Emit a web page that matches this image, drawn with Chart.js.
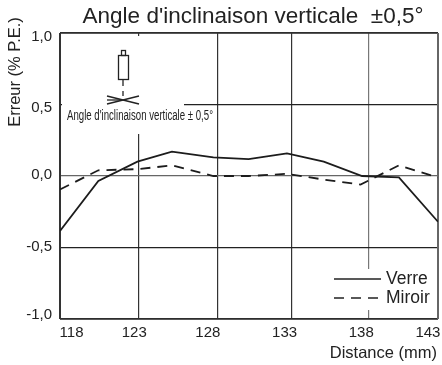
<!DOCTYPE html>
<html>
<head>
<meta charset="utf-8">
<style>
html, body { margin: 0; padding: 0; background: #fff; }
canvas { display: block; }
</style>
<script src="https://cdn.jsdelivr.net/npm/chart.js@4/dist/chart.umd.min.js"></script>
</head>
<body>
<canvas id="angleChart" width="442" height="365"></canvas>
<script>
const titleText = "Angle d'inclinaison verticale  \u00b10,5\u00b0";
const insetText = "Angle d'inclinaison verticale \u00b1 0,5\u00b0";
const yAxisTitle = 'Erreur (% P.E.)';
const xAxisTitle = 'Distance (mm)';
const xTicks = [118, 123, 128, 133, 138, 143];
const xGridLines = [123, 128.15, 133, 138];
const yTicks = [1, 0.5, 0, -0.5, -1];
const yTickLabels = ['1,0', '0,5', '0,0', '-0,5', '-1,0'];

const verreDistance = [117.9, 120.4, 122.95, 125.2, 127.9, 130.2, 132.7, 135.1, 137.6, 140, 142.55];
const verreErreur = [-0.385, -0.035, 0.1, 0.17, 0.13, 0.118, 0.158, 0.1, 0, -0.01, -0.32];
const miroirDistance = [117.9, 120.4, 122.95, 125.2, 127.9, 130.2, 132.7, 135.1, 137.5, 140, 142.55];
const miroirErreur = [-0.094, 0.04, 0.048, 0.074, 0, 0, 0.015, -0.025, -0.06, 0.074, -0.01];

const ink = '#222';
const toPoints = (xs, ys) => xs.map((x, i) => ({ x, y: ys[i] }));

const line = (ctx, x1, y1, x2, y2) => {
    ctx.beginPath();
    ctx.moveTo(x1, y1);
    ctx.lineTo(x2, y2);
    ctx.stroke();
};

// white patches the original has behind the inset drawing and the legend
const patches = {
    id: 'patches',
    beforeDatasetsDraw(chart) {
        const { ctx, scales: { x, y } } = chart;
        ctx.save();
        ctx.fillStyle = '#fff';
        ctx.fillRect(x.left + 2, y.top + 3, 122, 98);
        ctx.fillRect(330, 269, 106, 41);
        ctx.restore();
    }
};

const annotations = {
    id: 'annotations',
    afterDraw(chart) {
        const { ctx, scales: { x, y } } = chart;
        ctx.save();
        ctx.fillStyle = ink;
        ctx.textBaseline = 'middle';

        ctx.textAlign = 'center';
        ctx.font = '22.5px "Liberation Sans"';
        ctx.fillText(titleText, 253, 17);

        // tick labels sit a little off their grid lines in the original
        ctx.font = '15px "Liberation Sans"';
        const xShift = { 118: 10, 123: -4, 128: -7, 133: -7, 138: -7, 143: -17 };
        xTicks.forEach(t => ctx.fillText(String(t), x.getPixelForValue(t) + xShift[t], 333));

        ctx.textAlign = 'right';
        const yShift = [4, 3, -1, -1, -4];
        yTicks.forEach((t, i) => ctx.fillText(yTickLabels[i], 52, y.getPixelForValue(t) + yShift[i]));

        ctx.font = '16.5px "Liberation Sans"';
        ctx.fillText(xAxisTitle, 437, 353);

        ctx.save();
        ctx.translate(15, 72);
        ctx.rotate(-Math.PI / 2);
        ctx.textAlign = 'center';
        ctx.fillText(yAxisTitle, 0, 0);
        ctx.restore();

        // inset: sensor drawing and caption
        ctx.textAlign = 'left';
        ctx.font = '14px "Liberation Sans"';
        ctx.fillText(insetText, 67, 116, 146);

        ctx.strokeStyle = ink;
        ctx.lineWidth = 1.3;
        ctx.strokeRect(118.5, 55.5, 10, 24);
        ctx.strokeRect(121.5, 50.5, 4, 5);
        line(ctx, 123, 80, 123, 86);
        line(ctx, 123, 91, 123, 96);
        line(ctx, 107, 96, 139, 104);
        line(ctx, 107, 104, 139, 96);
        line(ctx, 107, 100, 122, 100);

        // legend, labels come from the datasets
        const [verre, miroir] = chart.data.datasets;
        ctx.lineWidth = 1.7;
        line(ctx, 334, 279, 381, 279);
        ctx.setLineDash(miroir.borderDash);
        line(ctx, 334, 298, 381, 298);
        ctx.setLineDash([]);
        ctx.font = '17.5px "Liberation Sans"';
        ctx.fillText(verre.label, 386, 279);
        ctx.fillText(miroir.label, 386, 298);
        ctx.restore();
    }
};

new Chart(document.getElementById('angleChart').getContext('2d'), {
    type: 'line',
    data: {
        datasets: [{
            label: 'Verre',
            data: toPoints(verreDistance, verreErreur),
            borderColor: '#1c1c1c',
            borderWidth: 1.8,
            pointRadius: 0,
            tension: 0
        }, {
            label: 'Miroir',
            data: toPoints(miroirDistance, miroirErreur),
            borderColor: '#1c1c1c',
            borderWidth: 1.8,
            borderDash: [10, 7],
            pointRadius: 0,
            tension: 0
        }]
    },
    options: {
        responsive: false,
        animation: false,
        layout: { padding: { left: 60, right: 4, top: 33, bottom: 46 } },
        plugins: {
            legend: { display: false },
            title: { display: false },
            tooltip: { enabled: false }
        },
        scales: {
            x: {
                type: 'linear',
                min: 117.9,
                max: 142.55,
                afterBuildTicks: scale => {
                    scale.ticks = xGridLines.map(value => ({ value }));
                },
                ticks: { display: false },
                border: { display: false },
                grid: {
                    drawTicks: false,
                    lineWidth: 1.2,
                    color: ctx => (ctx.tick && ctx.tick.value === 138 ? '#777' : '#333')
                }
            },
            y: {
                min: -1,
                max: 1,
                afterBuildTicks: scale => {
                    scale.ticks = yTicks.map(value => ({ value }));
                },
                ticks: { display: false },
                border: { display: false },
                grid: {
                    drawTicks: false,
                    lineWidth: 1.2,
                    color: ctx => (ctx.tick && ctx.tick.value === 0 ? '#666' : '#222')
                }
            }
        }
    },
    plugins: [patches, annotations, {
        id: 'frame',
        beforeDatasetsDraw(chart) {
            const { ctx, chartArea: a } = chart;
            ctx.save();
            ctx.strokeStyle = '#333';
            ctx.lineWidth = 1.6;
            line(ctx, a.left, a.top, a.right, a.top);
            line(ctx, a.left, a.bottom, a.right, a.bottom);
            ctx.lineWidth = 2;
            line(ctx, a.left, a.top, a.left, a.bottom);
            ctx.strokeStyle = '#666';
            line(ctx, a.right, a.top, a.right, a.bottom);
            ctx.restore();
        }
    }]
});
</script>
</body>
</html>
